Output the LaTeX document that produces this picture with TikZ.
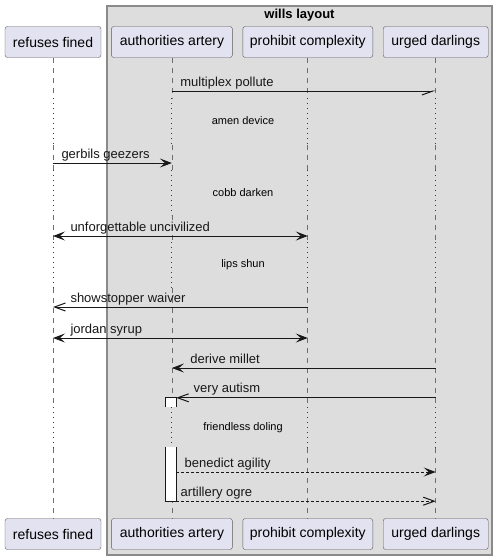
\documentclass[tikz,border=0pt]{standalone}
\usepackage{fontspec}
\setmainfont{Liberation Sans}
\usetikzlibrary{arrows.meta,calc,positioning}
\definecolor{partfill}{HTML}{E2E2F0}
\definecolor{partdraw}{HTML}{5A5A5A}
\definecolor{groupfill}{HTML}{DDDDDD}
\definecolor{groupdraw}{HTML}{8A8A8A}
\definecolor{lifegray}{HTML}{6E6E6E}
\definecolor{delayred}{HTML}{A80036}
\definecolor{msgdark}{HTML}{181818}
\tikzset{
  partbox/.style={draw=partdraw,fill=partfill,rounded corners=2.5pt,minimum height=31pt,inner sep=0pt,font=\fontsize{14}{16}\selectfont},
  groupbox/.style={draw=groupdraw,fill=groupfill,line width=1.2pt},
  lifeline/.style={lifegray,dash pattern=on 5pt off 5pt,line width=0.8pt},
  delayline/.style={delayred,dash pattern=on 1.2pt off 3.8pt,line width=1pt},
  msg/.style={msgdark,line width=1pt},
  reply/.style={msg,dash pattern=on 3pt off 2pt},
  fullhead/.style={-{Stealth[length=12pt,width=9pt,inset=5pt]}},
  bothhead/.style={{Stealth[length=12pt,width=9pt,inset=5pt]}-{Stealth[length=12pt,width=9pt,inset=5pt]}},
  openhead/.style={-{Straight Barb[length=11pt,width=8pt]}},
  halfhead/.style={-{Straight Barb[length=11pt,width=8pt,harpoon,swap]}},
  msglabel/.style={anchor=base west,inner sep=0pt,font=\fontsize{13}{15}\selectfont},
  delaylabel/.style={inner sep=0pt,font=\fontsize{11}{13}\selectfont},
  actbox/.style={fill=white,minimum width=10pt,inner sep=0pt},
  actline/.style={msgdark,line width=1pt}
}

\begin{document}
\begin{tikzpicture}[x=1pt,y=-1pt]
  \useasboundingbox (0,0) rectangle (496,560);
  \draw[groupbox] (107,6) rectangle (492,555);
  \node[font=\fontsize{13}{15}\selectfont\bfseries] (grouptitle) at (299.5,15) {wills layout};

  \node[partbox,minimum width=96pt] (rf-top) at (53,42) {refuses fined};
  \node[partbox,minimum width=121pt,right=10pt of rf-top] (aa-top) {authorities artery};
  \node[partbox,minimum width=130pt,right=10pt of aa-top] (pc-top) {prohibit complexity};
  \node[partbox,minimum width=105pt,right=10pt of pc-top] (ud-top) {urged darlings};
  \node[partbox,minimum width=96pt] (rf-bot) at (53,534) {refuses fined};
  \node[partbox,minimum width=121pt,right=10pt of rf-bot] (aa-bot) {authorities artery};
  \node[partbox,minimum width=130pt,right=10pt of aa-bot] (pc-bot) {prohibit complexity};
  \node[partbox,minimum width=105pt,right=10pt of pc-bot] (ud-bot) {urged darlings};

  \foreach \p in {rf,aa,pc,ud}{
    \draw[lifeline] (\p-top.south) -- (\p-top.south |- 0,98);
    \draw[delayline] (\p-top.south |- 0,98) -- (\p-top.south |- 0,145);
    \draw[lifeline] (\p-top.south |- 0,145) -- (\p-top.south |- 0,170);
    \draw[delayline] (\p-top.south |- 0,170) -- (\p-top.south |- 0,215);
    \draw[lifeline] (\p-top.south |- 0,215) -- (\p-top.south |- 0,242);
    \draw[delayline] (\p-top.south |- 0,242) -- (\p-top.south |- 0,288);
    \draw[lifeline] (\p-top.south |- 0,288) -- (\p-top.south |- 0,407);
    \draw[delayline] (\p-top.south |- 0,407) -- (\p-top.south |- 0,448);
    \draw[lifeline] (\p-top.south |- 0,448) -- (\p-bot.north);
  }

  \node[delaylabel] (amen) at (243,121) {amen device};
  \node[delaylabel] (cobb) at (243,193) {cobb darken};
  \node[delaylabel] (lips) at (243,265) {lips shun};
  \node[delaylabel] (doling) at (243,428) {friendless doling};

  \node[actbox,minimum height=9pt] (act1) at (171,402.5) {};
  \draw[actline] (act1.south west) |- (act1.north east) -- (act1.south east);
  \node[actbox,minimum height=54pt] (act2) at (171,474) {};
  \draw[actline] (act2.north west) |- (act2.south east) -- (act2.north east);

  \draw[msg,halfhead] (aa-top |- 0,91) -- (ud-top |- 0,91)
    node[msglabel,at start,xshift=8pt,yshift=5pt] {multiplex pollute};
  \draw[msg,fullhead] (rf-top |- 0,163) -- (aa-top |- 0,163)
    node[msglabel,at start,xshift=8pt,yshift=5pt] {gerbils geezers};
  \draw[msg,bothhead] (rf-top |- 0,236) -- (pc-top |- 0,236)
    node[msglabel,at start,xshift=17pt,yshift=5pt] {unforgettable uncivilized};
  \draw[msg,openhead] (pc-top |- 0,307) -- (rf-top |- 0,307)
    node[msglabel,at end,xshift=17pt,yshift=5pt] {showstopper waiver};
  \draw[msg,bothhead] (rf-top |- 0,338) -- (pc-top |- 0,338)
    node[msglabel,at start,xshift=17pt,yshift=5pt] {jordan syrup};
  \draw[msg,fullhead] (ud-top |- 0,368) -- (aa-top |- 0,368)
    node[msglabel,at end,xshift=18pt,yshift=5pt] {derive millet};
  \draw[msg,openhead] (ud-top |- act1.north east) -- (act1.north east)
    node[msglabel,at end,xshift=17pt,yshift=5pt] {very autism};
  \draw[reply,fullhead] (act2.east |- 0,472) -- (ud-top |- 0,472)
    node[msglabel,at start,xshift=8pt,yshift=5pt] {benedict agility};
  \draw[reply,openhead] (act2.south east) -- (ud-top |- act2.south east)
    node[msglabel,at start,xshift=4pt,yshift=5pt] {artillery ogre};
\end{tikzpicture}
\end{document}
